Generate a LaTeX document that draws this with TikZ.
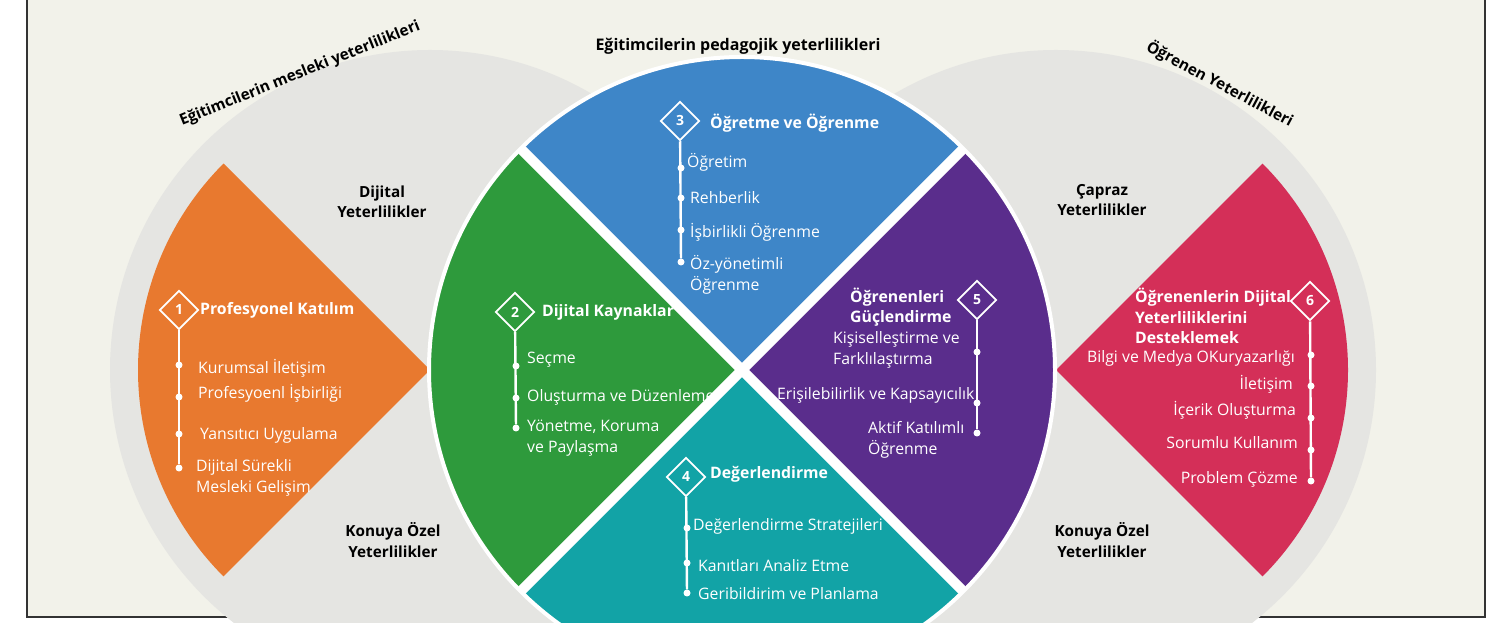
\documentclass[tikz,border=0pt]{standalone}
\usepackage{fontspec}
\setmainfont{Open Sans}
\usepackage{tikz}
\usetikzlibrary{shapes}
\definecolor{paper}{HTML}{F2F2EA}
\definecolor{ring}{HTML}{E5E5E2}
\definecolor{orng}{HTML}{E8792F}
\definecolor{grn}{HTML}{2E9A3C}
\definecolor{blu}{HTML}{3E86C8}
\definecolor{tealc}{HTML}{12A3A6}
\definecolor{purp}{HTML}{5A2D8C}
\definecolor{rose}{HTML}{D42F58}
\tikzstyle{badge}=[diamond,draw=white,line width=1.8pt,minimum size=39pt,inner sep=0pt,text=white,font=\bfseries\fontsize{14}{14}\selectfont]
\tikzstyle{dot}=[circle,fill=white,minimum size=7pt,inner sep=0pt]
\tikzstyle{stem}=[draw,white,line width=2.4pt]
\tikzstyle{item}=[text=white,anchor=west,align=left,inner sep=0pt,font=\fontsize{15.8}{21}\selectfont]
\tikzstyle{head}=[text=white,anchor=west,align=left,inner sep=0pt,font=\bfseries\fontsize{15.8}{20.5}\selectfont]
\tikzstyle{zone}=[text=black,align=center,inner sep=0pt,font=\bfseries\fontsize{15.3}{20.5}\selectfont]

\begin{document}
\begin{tikzpicture}[x=1pt,y=1pt]
        \useasboundingbox (0,0) rectangle (1505,623);
        \fill[white] (0,0) rectangle (1505,623);
        % frame
        \fill[paper] (27,6) rectangle (1485,630);
        \draw[black!80,line width=1.5pt] (27,630) -- (27,6) -- (1485,6) -- (1485,630);
        % grey discs
        \fill[ring] (430,253) circle (320);
        \fill[ring] (1056,253) circle (320);
        % outer wedges
        \fill[orng] (430,253) -- ++(135:292) arc[start angle=135,end angle=225,radius=292] -- cycle;
        \fill[rose] (1056,253) -- ++(-45:292) arc[start angle=-45,end angle=45,radius=292] -- cycle;
        % central disc
        \fill[blu] (742,253) -- ++(45:312) arc[start angle=45,end angle=135,radius=312] -- cycle;
        \fill[grn] (742,253) -- ++(135:312) arc[start angle=135,end angle=225,radius=312] -- cycle;
        \fill[tealc] (742,253) -- ++(225:312) arc[start angle=225,end angle=315,radius=312] -- cycle;
        \fill[purp] (742,253) -- ++(-45:312) arc[start angle=-45,end angle=45,radius=312] -- cycle;
        \draw[white,line width=10pt] (742,253) ++(45:313) -- ++(225:626);
        \draw[white,line width=10pt] (742,253) ++(135:313) -- ++(-45:626);
        \draw[white,line width=4pt] (742,253) circle (313);

        % outer labels
        \node[zone,font=\bfseries\fontsize{16}{20}\selectfont] (ped) at (738,577) {Eğitimcilerin pedagojik yeterlilikleri};
        \node[zone,rotate=22] (mes) at (300,549) {Eğitimcilerin mesleki yeterlilikleri};
        \node[zone,rotate=-28] (ogr) at (1220,539) {Öğrenen Yeterlilikleri};
        \node[zone] (dij) at (382,421) {Dijital\\Yeterlilikler};
        \node[zone] (konL) at (393,83) {Konuya Özel\\Yeterlilikler};
        \node[zone] (cap) at (1102,423) {Çapraz\\Yeterlilikler};
        \node[zone] (konR) at (1102,83) {Konuya Özel\\Yeterlilikler};

        % 1 orange
        \node[badge] (d1) at (179,313) {1};
        \node[head] (t1) at (200,313) {Profesyonel Katılım};
        \node[dot] (p11) at (179,258) {};
        \node[dot] (p12) at (179,226) {};
        \node[dot] (p13) at (179,189) {};
        \node[dot] (p14) at (179,155) {};
        \draw[stem] (d1) to (p14);
        \node[item] (i11) at (198,255) {Kurumsal İletişim};
        \node[item] (i12) at (198,230) {Profesyoenl İşbirliği};
        \node[item] (i13) at (200,188) {Yansıtıcı Uygulama};
        \node[item] (i14) at (196,145) {Dijital Sürekli\\Mesleki Gelişim};

        % 2 green
        \node[badge] (d2) at (515,311) {2};
        \node[head] (t2) at (542,311) {Dijital Kaynaklar};
        \node[dot] (p21) at (516,257) {};
        \node[dot] (p22) at (516,225) {};
        \node[dot] (p23) at (516,195) {};
        \draw[stem] (d2) to (p23);
        \node[item] (i21) at (527,263) {Seçme};
        \node[item] (i22) at (527,226) {Oluşturma ve Düzenleme};
        \node[item] (i23) at (527,185) {Yönetme, Koruma\\ve Paylaşma};

        % 3 blue
        \node[badge] (d3) at (680,502) {3};
        \node[head] (t3) at (710,500) {Öğretme ve Öğrenme};
        \node[dot] (p31) at (681,455) {};
        \node[dot] (p32) at (681,425) {};
        \node[dot] (p33) at (681,393) {};
        \node[dot] (p34) at (681,361) {};
        \draw[stem] (d3) to (p34);
        \node[item] (i31) at (687,461) {Öğretim};
        \node[item] (i32) at (690,425) {Rehberlik};
        \node[item] (i33) at (690,391) {İşbirlikli Öğrenme};
        \node[item] (i34) at (690,348) {Öz-yönetimli\\Öğrenme};

        % 4 teal
        \node[badge] (d4) at (686,146) {4};
        \node[head] (t4) at (710,149) {Değerlendirme};
        \node[dot] (p41) at (687,95) {};
        \node[dot] (p42) at (687,60) {};
        \node[dot] (p43) at (687,30) {};
        \draw[stem] (d4) to (p43);
        \node[item] (i41) at (693,97) {Değerlendirme Stratejileri};
        \node[item] (i42) at (698,57) {Kanıtları Analiz Etme};
        \node[item] (i43) at (698,29) {Geribildirim ve Planlama};

        % 5 purple
        \node[badge] (d5) at (977,323) {5};
        \node[head] (t5) at (850,316) {Öğrenenleri\\Güçlendirme};
        \node[dot] (p51) at (977,271) {};
        \node[dot] (p52) at (977,220) {};
        \node[dot] (p53) at (977,190) {};
        \draw[stem] (d5) to (p53);
        \node[item] (i51) at (833,273) {Kişiselleştirme ve\\Farklılaştırma};
        \node[item] (i52) at (777,228) {Erişilebilirlik ve Kapsayıcılık};
        \node[item] (i53) at (868,183) {Aktif Katılımlı\\Öğrenme};

        % 6 red
        \node[badge] (d6) at (1310,322) {6};
        \node[head] (t6) at (1135,307) {Öğrenenlerin Dijital\\Yeterliliklerini\\Desteklemek};
        \node[dot] (p61) at (1311,268) {};
        \node[dot] (p62) at (1311,237) {};
        \node[dot] (p63) at (1311,205) {};
        \node[dot] (p64) at (1311,173) {};
        \node[dot] (p65) at (1311,142) {};
        \draw[stem] (d6) to (p65);
        \node[item,anchor=east] (i61) at (1295,265) {Bilgi ve Medya OKuryazarlığı};
        \node[item,anchor=east] (i62) at (1293,239) {İletişim};
        \node[item,anchor=east] (i63) at (1296,213) {İçerik Oluşturma};
        \node[item,anchor=east] (i64) at (1298,180) {Sorumlu Kullanım};
        \node[item,anchor=east] (i65) at (1298,144) {Problem Çözme};
\end{tikzpicture}
\end{document}
